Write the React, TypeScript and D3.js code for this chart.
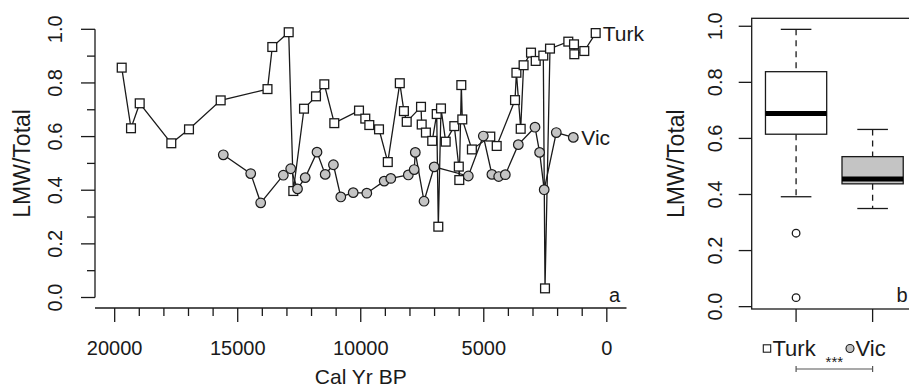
import React from 'react';
import * as d3 from 'd3';

// ---- data ----
const turkAge = [19715, 19337, 18983, 17699, 16980, 15692, 13790, 13595, 12928, 12741, 12306, 11819, 11481, 11075, 10071, 9815, 9652, 9258, 8901, 8413, 8246, 8132, 7551, 7523, 7352, 7096, 6913, 6848, 6739, 6548, 6198, 6015, 5995, 5913, 5873, 5483, 4735, 4475, 3731, 3674, 3500, 3382, 3081, 2890, 2581, 2512, 2309, 1565, 1333, 1321, 915, 452];
const turkVal = [0.857, 0.631, 0.724, 0.575, 0.627, 0.735, 0.777, 0.934, 0.989, 0.397, 0.704, 0.750, 0.795, 0.650, 0.697, 0.667, 0.643, 0.627, 0.505, 0.799, 0.695, 0.655, 0.711, 0.645, 0.615, 0.584, 0.684, 0.264, 0.705, 0.581, 0.639, 0.488, 0.438, 0.792, 0.664, 0.552, 0.600, 0.565, 0.736, 0.838, 0.629, 0.866, 0.913, 0.882, 0.902, 0.034, 0.928, 0.954, 0.944, 0.907, 0.919, 0.986];
const vicAge = [15586, 14472, 14066, 13147, 12847, 12570, 12257, 11778, 11445, 11111, 10811, 10307, 9754, 9047, 8779, 8067, 7828, 7783, 7429, 7015, 5629, 5019, 4670, 4394, 4125, 3597, 2918, 2731, 2545, 2053, 1362];
const vicVal = [0.532, 0.462, 0.353, 0.456, 0.480, 0.405, 0.447, 0.542, 0.459, 0.495, 0.375, 0.391, 0.389, 0.434, 0.444, 0.457, 0.477, 0.541, 0.359, 0.487, 0.453, 0.602, 0.459, 0.451, 0.458, 0.570, 0.635, 0.541, 0.402, 0.615, 0.597];

const xMajorTicks = [20000, 15000, 10000, 5000, 0];
const xMinorTicks = d3.range(20000, -1, -1000);
const yMajorTicks = [0, 0.2, 0.4, 0.6, 0.8, 1.0];
const yMinorTicks = [0.1, 0.3, 0.5, 0.7, 0.9];

const boxGroups = ['Turk', 'Vic'];
const boxLow = [0.392, 0.350];
const boxQ1 = [0.615, 0.438];
const boxMed = [0.689, 0.455];
const boxQ3 = [0.838, 0.535];
const boxHigh = [0.989, 0.632];
const boxOutliers = [[0.262, 0.032], []];

const FONT = 'Liberation Sans, Arial, Helvetica, sans-serif';
const FS = 20;
const INK = '#1a1a1a';
const GREY = '#c4c4c4';

export default function App() {
  // left panel scales
  const xL = d3.scaleLinear().domain([20800, -800]).range([95, 626.5]);
  const yL = d3.scaleLinear().domain([0, 1]).range([297.5, 29.3]);
  // right panel scales
  const xR = d3.scaleLinear().domain([0.42, 2.58]).range([751.7, 917]);
  const yR = d3.scaleLinear().domain([-0.0084, 1.0284]).range([309, 18.3]);

  const turk = turkAge.map((a, i) => [a, turkVal[i]] as [number, number]);
  const vic = vicAge.map((a, i) => [a, vicVal[i]] as [number, number]);
  const line = d3.line<[number, number]>().x(d => xL(d[0])).y(d => yL(d[1]));

  const sq = 8.8;
  const r = 4.8;
  const lastT = turk[turk.length - 1];
  const lastV = vic[vic.length - 1];

  return (
    <svg width={909} height={386} style={{ position: 'absolute', left: 0, top: 0, background: '#fff' }}
      fontFamily={FONT}>
      <rect x={0} y={0} width={909} height={386} fill="#fff" />
      {/* ---------- left panel ---------- */}
      {/* y axis */}
      <line x1={xL.range()[0]} x2={xL.range()[0]} y1={yL(0)} y2={yL(1)} stroke={INK} strokeWidth={1.3} />
      {yMajorTicks.map(t => (
        <g key={'ly' + t}>
          <line x1={xL.range()[0] - 14} x2={xL.range()[0]} y1={yL(t)} y2={yL(t)} stroke={INK} strokeWidth={1.3} />
          <text transform={`translate(55,${yL(t)}) rotate(-90)`} textAnchor="middle" dominantBaseline="central"
            fontSize={FS} fill={INK}>{t.toFixed(1)}</text>
        </g>
      ))}
      {yMinorTicks.map(t => (
        <line key={'lym' + t} x1={xL.range()[0] - 8} x2={xL.range()[0]} y1={yL(t)} y2={yL(t)} stroke={INK} strokeWidth={1.3} />
      ))}
      <text transform={`translate(22,${(yL(0) + yL(1)) / 2}) rotate(-90)`} textAnchor="middle" dominantBaseline="central"
        fontSize={23} fill={INK}>LMW/Total</text>
      {/* x axis */}
      <line x1={xL.range()[0]} x2={xL.range()[1]} y1={308} y2={308} stroke={INK} strokeWidth={1.3} />
      {xMinorTicks.map(t => (
        <line key={'lxm' + t} x1={xL(t)} x2={xL(t)} y1={308} y2={308 + (xMajorTicks.includes(t) ? 14 : 8)} stroke={INK} strokeWidth={1.3} />
      ))}
      {xMajorTicks.map(t => (
        <text key={'lx' + t} x={xL(t)} y={348} textAnchor="middle" dominantBaseline="central" fontSize={FS} fill={INK}>{t}</text>
      ))}
      <text x={xL(10000)} y={376} textAnchor="middle" dominantBaseline="central" fontSize={21} fill={INK}>Cal Yr BP</text>
      <text x={614.5} y={295} textAnchor="middle" dominantBaseline="central" fontSize={FS} fill={INK}>a</text>

      {/* Turk series */}
      <path d={line(turk) || ''} fill="none" stroke={INK} strokeWidth={1.3} />
      {turk.map((d, i) => (
        <rect key={'t' + i} x={xL(d[0]) - sq / 2} y={yL(d[1]) - sq / 2} width={sq} height={sq} fill="#fff" stroke={INK} strokeWidth={1.3} />
      ))}
      {/* Vic series */}
      <path d={line(vic) || ''} fill="none" stroke={INK} strokeWidth={1.3} />
      {vic.map((d, i) => (
        <circle key={'v' + i} cx={xL(d[0])} cy={yL(d[1])} r={r} fill={GREY} stroke={INK} strokeWidth={1.2} />
      ))}
      <text x={xL(lastT[0]) + 7} y={yL(lastT[1])} dominantBaseline="central" fontSize={21} fill={INK}>Turk</text>
      <text x={xL(lastV[0]) + 8} y={yL(lastV[1])} dominantBaseline="central" fontSize={21} fill={INK}>Vic</text>

      {/* ---------- right panel ---------- */}
      <rect x={xR.range()[0]} y={yR.range()[1]} width={xR.range()[1] - xR.range()[0]} height={yR.range()[0] - yR.range()[1]}
        fill="none" stroke={INK} strokeWidth={1.3} />
      {yMajorTicks.map(t => (
        <g key={'ry' + t}>
          <line x1={xR.range()[0] - 13} x2={xR.range()[0]} y1={yR(t)} y2={yR(t)} stroke={INK} strokeWidth={1.3} />
          <text transform={`translate(715,${yR(t)}) rotate(-90)`} textAnchor="middle" dominantBaseline="central"
            fontSize={FS} fill={INK}>{t.toFixed(1)}</text>
        </g>
      ))}
      <text transform={`translate(676,${(yR.range()[0] + yR.range()[1]) / 2}) rotate(-90)`} textAnchor="middle" dominantBaseline="central"
        fontSize={23} fill={INK}>LMW/Total</text>
      {boxGroups.map((g, i) => {
        const c = xR(i + 1);
        const hw = xR(1.4) - xR(1);
        const sw = xR(1.2) - xR(1);
        return (
          <g key={'b' + g}>
            <line x1={c} x2={c} y1={yR.range()[0]} y2={yR.range()[0] + 13} stroke={INK} strokeWidth={1.3} />
            <line x1={c} x2={c} y1={yR(boxHigh[i])} y2={yR(boxQ3[i])} stroke={INK} strokeWidth={1.3} strokeDasharray="6,5" />
            <line x1={c} x2={c} y1={yR(boxQ1[i])} y2={yR(boxLow[i])} stroke={INK} strokeWidth={1.3} strokeDasharray="6,5" />
            <line x1={c - sw} x2={c + sw} y1={yR(boxHigh[i])} y2={yR(boxHigh[i])} stroke={INK} strokeWidth={1.3} />
            <line x1={c - sw} x2={c + sw} y1={yR(boxLow[i])} y2={yR(boxLow[i])} stroke={INK} strokeWidth={1.3} />
            <rect x={c - hw} y={yR(boxQ3[i])} width={2 * hw} height={yR(boxQ1[i]) - yR(boxQ3[i])}
              fill={i === 0 ? '#fff' : GREY} stroke={INK} strokeWidth={1.3} />
            <line x1={c - hw} x2={c + hw} y1={yR(boxMed[i])} y2={yR(boxMed[i])} stroke="#000" strokeWidth={5} />
            {boxOutliers[i].map((o, j) => (
              <circle key={j} cx={c} cy={yR(o)} r={3.8} fill="none" stroke={INK} strokeWidth={1.3} />
            ))}
            <text x={c - 2} y={348} textAnchor="middle" dominantBaseline="central" fontSize={22} fill={INK}>{g}</text>
          </g>
        );
      })}
      {/* group symbols */}
      <rect x={767 - 3.7} y={348.5 - 3.7} width={7.4} height={7.4} fill="#fff" stroke={INK} strokeWidth={1.1} />
      <circle cx={850} cy={348.5} r={4} fill={GREY} stroke={INK} strokeWidth={1.1} />
      {/* significance bar */}
      <line x1={xR(1)} x2={xR(2)} y1={369} y2={369} stroke="#555" strokeWidth={1.2} />
      <line x1={xR(1)} x2={xR(1)} y1={366} y2={372} stroke="#555" strokeWidth={1.2} />
      <line x1={xR(2)} x2={xR(2)} y1={366} y2={372} stroke="#555" strokeWidth={1.2} />
      <text x={(xR(1) + xR(2)) / 2} y={367} textAnchor="middle" fontSize={15} fill={INK}>***</text>
      <text x={902} y={295} textAnchor="middle" dominantBaseline="central" fontSize={FS} fill={INK}>b</text>
    </svg>
  );
}
